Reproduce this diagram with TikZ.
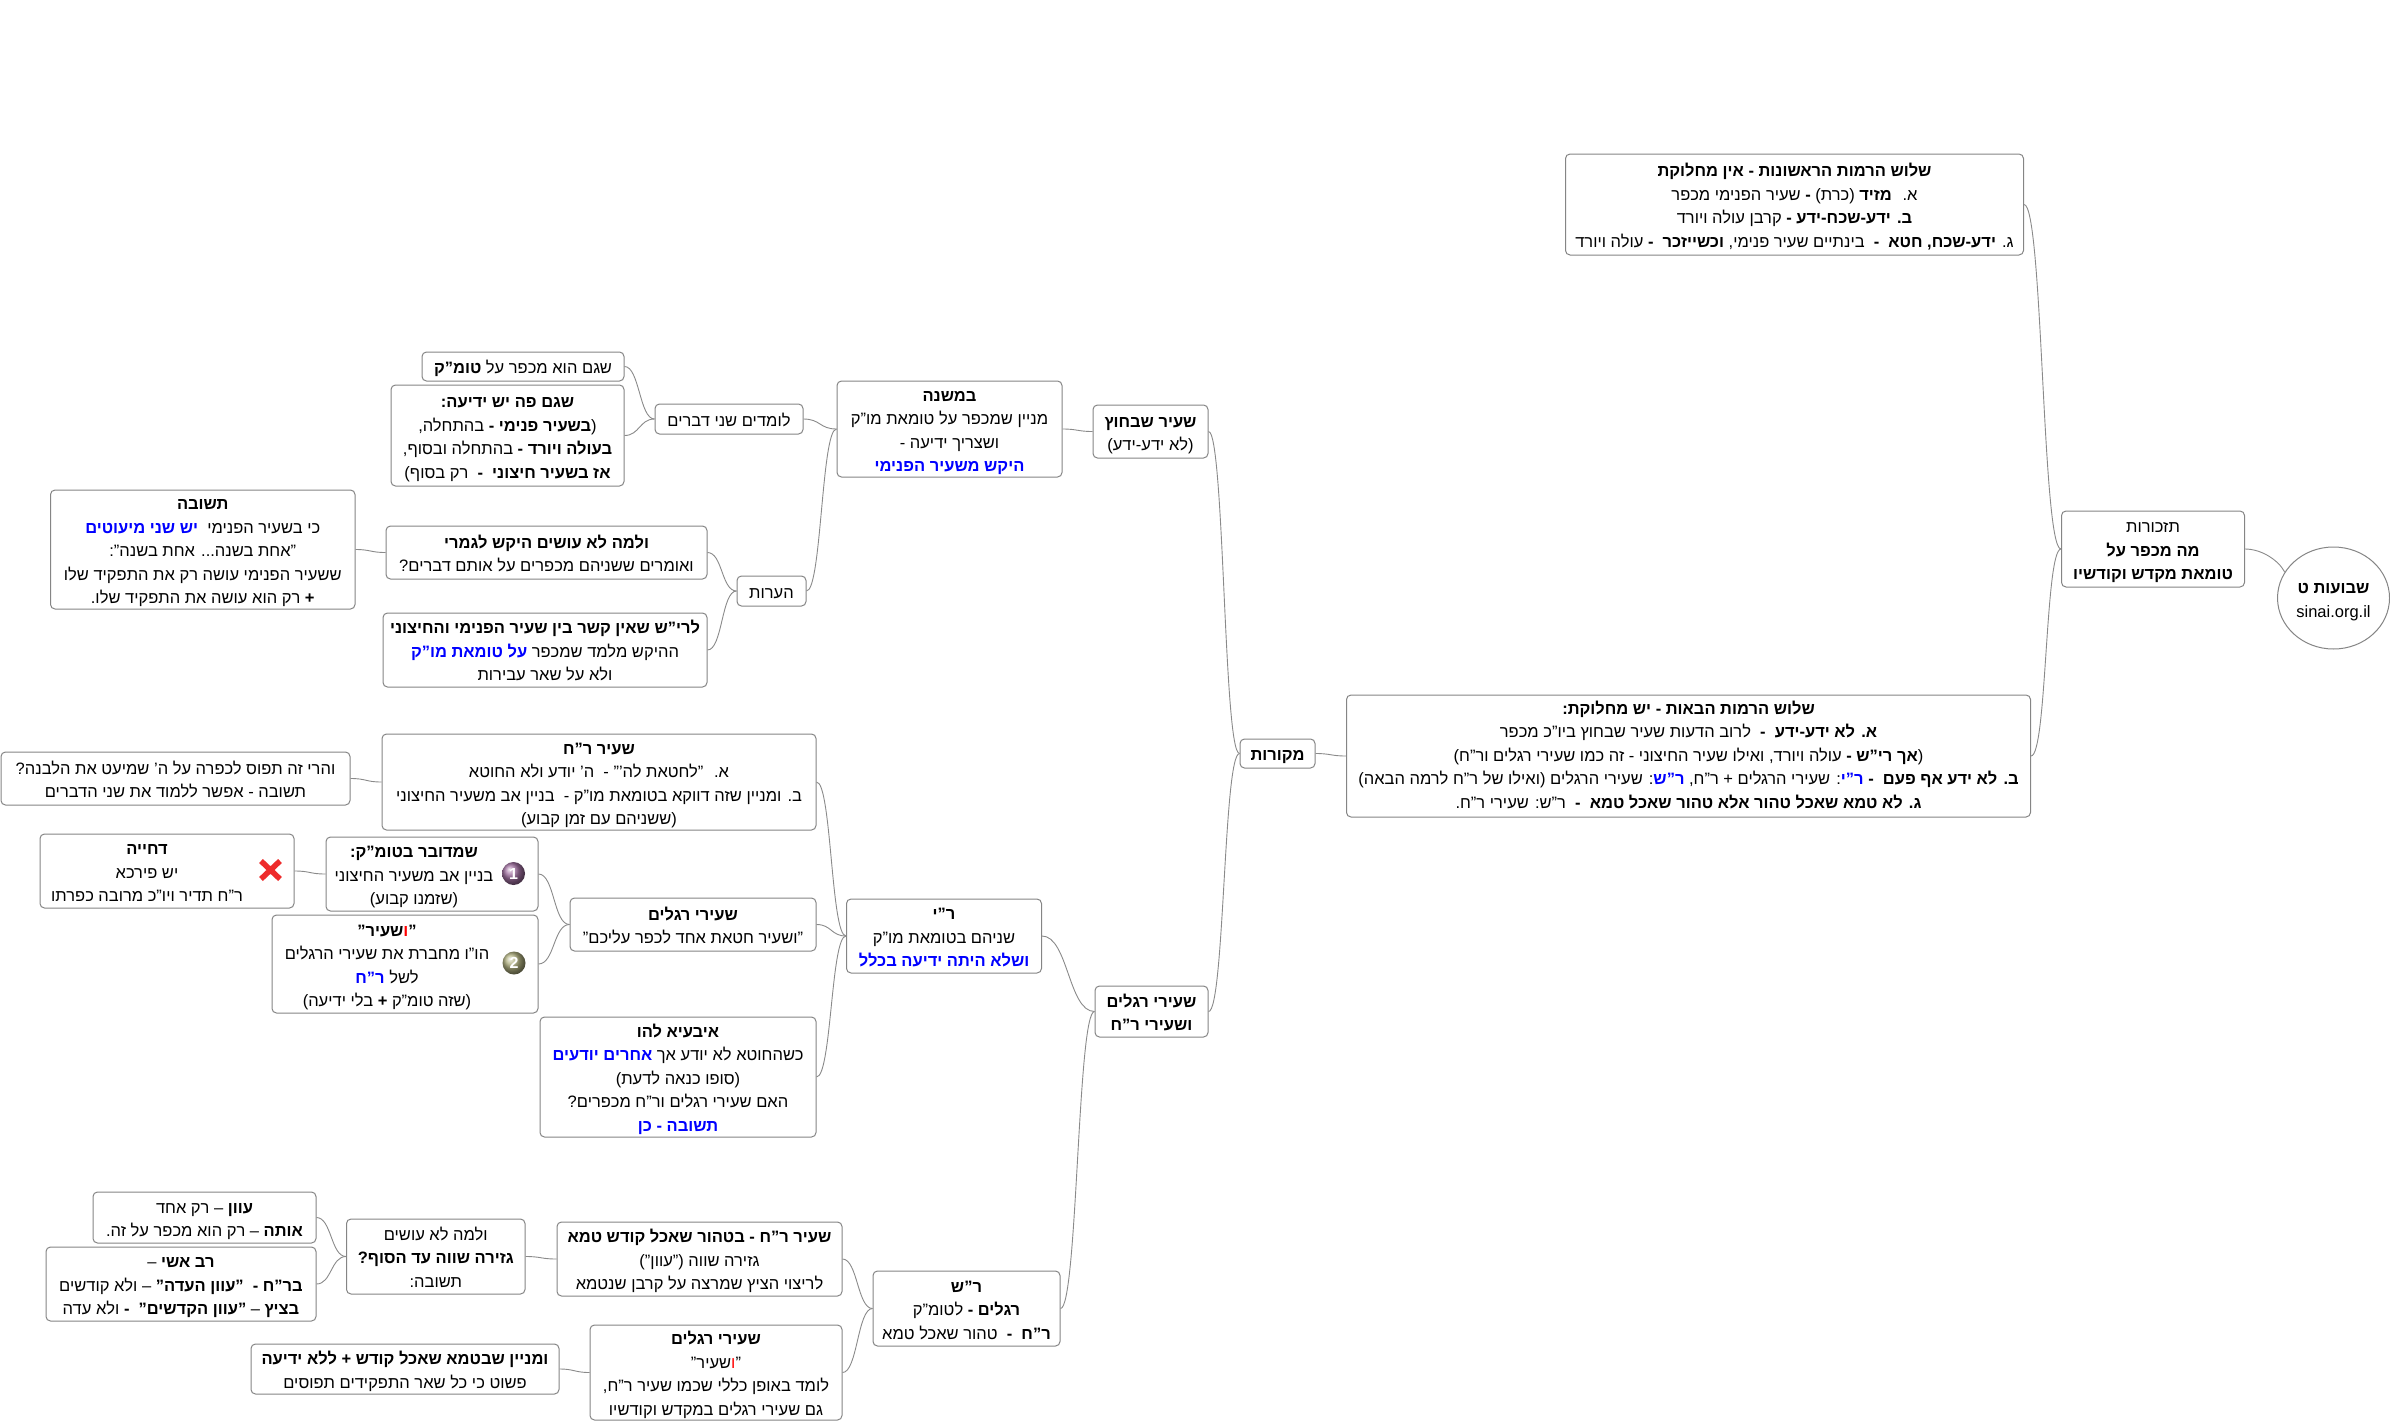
\documentclass[tikz,border=0pt]{standalone}
\usepackage{fontspec}
\setmainfont[Script=Hebrew]{Liberation Sans}
\usetikzlibrary{shapes.geometric}
\TeXXeTstate=1
\definecolor{edgegray}{HTML}{8A8A8A}
\definecolor{bordergray}{HTML}{858585}
\definecolor{xred}{HTML}{EE2B2B}
\definecolor{ballone}{HTML}{A070A0}
\definecolor{balltwo}{HTML}{B0B080}
\newcommand{\rl}[1]{\beginR #1\endR}
\newcommand{\bd}[1]{\textbf{#1}}
% coloured runs stand outside the right-to-left runs; a line with colour lists its runs from left to right
\newcommand{\bl}[1]{\textcolor{blue}{\rl{\textbf{#1}}}}
\newcommand{\rv}[1]{\textcolor{red}{\rl{#1}}}
\newcommand{\rvb}[1]{\textcolor{red}{\rl{\textbf{#1}}}}
\newcommand{\txtdrop}{-7.1pt}
\tikzset{
  mapbox/.style={draw=bordergray,line width=1pt,rounded corners=4.5pt,fill=white,inner sep=0pt,
     font=\fontsize{16.5}{23.5}\selectfont,text=black},
  link/.style={draw=edgegray,line width=0.9pt},
}
% [text offset] name x1 y1 x2 y2 text
\newcommand{\bx}[7][0pt]{\node[mapbox,minimum width=#5pt-#3pt,minimum height=#6pt-#4pt] (#2) at ({(#3+#5)/2},{(#4+#6)/2}) {\raisebox{\txtdrop}[0pt][0pt]{\begin{tabular}{@{}c@{}}#7\end{tabular}}\hspace*{#1}};}
\newcommand{\lnk}[3]{\draw[link] (#1.east) to[out=0,in=180,out distance=#3pt,in distance=#3pt] (#2.west);}
\begin{document}
\begin{tikzpicture}[x=1pt,y=-1pt]
\useasboundingbox (0,0) rectangle (2390,1421);
\node[draw=bordergray,line width=1pt,ellipse,minimum width=112pt,minimum height=102pt,inner sep=0pt,font=\fontsize{16.5}{23.5}\selectfont] (root) at (2333.5,598) {\raisebox{-7.1pt}[0pt][0pt]{\begin{tabular}{@{}c@{}}\rl{\bd{שבועות ט}}\\sinai.org.il\end{tabular}}};
\bx{taz}{2061.5}{511}{2244.5}{587}{\rl{תזכורות}\\\rl{\bd{מה מכפר על}}\\\rl{\bd{טומאת מקדש וקודשיו}}}
\bx{ra}{1565.5}{154}{2023.5}{255}{\rl{\bd{שלוש הרמות הראשונות - אין מחלוקת}}\\\rl{א.~ \bd{מזיד} (כרת) \bd{-} שעיר הפנימי מכפר}\\\rl{\bd{ב. ידע-שכח-ידע -} קרבן עולה ויורד}\\\rl{ג. \bd{ידע-שכח, חטא~ -~} בינתיים שעיר פנימי, \bd{וכשייזכר~ -} עולה ויורד}}
\renewcommand{\txtdrop}{-5.1pt}
\bx{rb}{1346.5}{695}{2030.5}{817}{\rl{\bd{שלוש הרמות הבאות - יש מחלוקת:}}\\\rl{\bd{א. לא ידע-ידע~ -~} לרוב הדעות שעיר שבחוץ ביו"כ מכפר}\\\rl{(\bd{אך רי"ש -} עולה ויורד, ואילו שעיר החיצוני - זה כמו שעירי רגלים ור"ח)}\\\rl{: שעירי הרגלים (ואילו של ר"ח לרמה הבאה)}\bl{ר"ש}\rl{: שעירי הרגלים + ר"ח, }\bl{ר"י}~\rl{\bd{ב. לא ידע אף פעם~ -}}\\\rl{\bd{ג. לא טמא שאכל טהור אלא טהור שאכל טמא~ -~} ר"ש: שעירי ר"ח.}}
\renewcommand{\txtdrop}{-7.1pt}
\bx{mek}{1240}{739}{1315}{768}{\rl{\bd{מקורות}}}
\bx{bach}{1093}{405}{1208}{458}{\rl{\bd{שעיר שבחוץ}}\\\rl{(לא ידע-ידע)}}
\bx{srv}{1095}{986}{1208}{1037}{\rl{\bd{שעירי רגלים}}\\\rl{\bd{ושעירי ר"ח}}}
\bx{mish}{837}{381}{1062}{477}{\rl{\bd{במשנה}}\\\rl{מניין שמכפר על טומאת מו"ק}\\\rl{ושצריך ידיעה -}\\\bl{היקש משעיר הפנימי}}
\bx{lomd}{655}{404}{803}{434}{\rl{לומדים שני דברים}}
\bx{shg}{422}{352}{624}{381}{\rl{שגם הוא מכפר על \bd{טומ"ק}}}
\bx{shp}{391}{385}{624}{486}{\rl{\bd{שגם פה יש ידיעה:}}\\\rl{(\bd{בשעיר פנימי -} בהתחלה,}\\\rl{\bd{בעולה ויורד -} בהתחלה ובסוף,}\\\rl{\bd{אז בשעיר חיצוני~ -~} רק בסוף)}}
\bx{hea}{737}{576}{806}{606}{\rl{הערות}}
\bx{vel}{386}{526}{707}{579}{\rl{\bd{ולמה לא עושים היקש לגמרי}}\\\rl{ואומרים ששניהם מכפרים על אותם דברים?}}
\bx{tsh}{50.5}{490}{355}{609}{\rl{\bd{תשובה}}\\\bl{יש שני מיעוטים}~~\rl{כי בשעיר הפנימי}\\\rl{"אחת בשנה... אחת בשנה":}\\\rl{ששעיר הפנימי עושה רק את התפקיד שלו}\\\rl{\bd{+} רק הוא עושה את התפקיד שלו.}}
\bx{ler}{383}{613}{707}{687}{\rl{\bd{לרי"ש שאין קשר בין שעיר הפנימי והחיצוני}}\\\bl{על טומאת מו"ק}~\rl{ההיקש מלמד שמכפר}\\\rl{ולא על שאר עבירות}}
\bx{ry}{846.5}{899}{1041.5}{973}{\rl{\bd{ר"י}}\\\rl{שניהם בטומאת מו"ק}\\\bl{ושלא היתה ידיעה בכלל}}
\bx{src}{382}{734}{816}{830}{\rl{\bd{שעיר ר"ח}}\\\rl{א.~ "לחטאת לה'" -~ ה' יודע ולא החוטא}\\\rl{ב. ומניין שזה דווקא בטומאת מו"ק -~ בניין אב משעיר החיצוני}\\\rl{(ששניהם עם זמן קבוע)}}
\bx{veh}{1}{752}{350}{805}{\rl{והרי זה תפוס לכפרה על ה' שמיעט את הלבנה?}\\\rl{תשובה - אפשר ללמוד את שני הדברים}}
\bx{srg}{570}{898}{816}{951}{\rl{\bd{שעירי רגלים}}\\\rl{"ושעיר חטאת אחד לכפר עליכם"}}
\bx[36pt]{shm}{326}{837}{538}{911}{\rl{\bd{שמדובר בטומ"ק:}}\\\rl{בניין אב משעיר החיצוני}\\\rl{(שזמנו קבוע)}}
\bx[40pt]{dch}{40}{834}{294}{908}{\rl{\bd{דחייה}}\\\rl{יש פירכא}\\\rl{ר"ח תדיר ויו"כ מרובה כפרתו}}
\bx[36pt]{ves}{272}{915}{538}{1013}{\rl{\bd{שעיר"}}\rvb{ו}\rl{\bd{"}}\\\rl{הו"ו מחברת את שעירי הרגלים}\\\bl{ר"ח}~\rl{לשל}\\\rl{(שזה טומ"ק \bd{+} בלי ידיעה)}}
\bx{iba}{540}{1017}{816}{1137}{\rl{\bd{איבעיא להו}}\\\bl{אחרים יודעים}~\rl{כשהחוטא לא יודע אך}\\\rl{(סופו כנאה לדעת)}\\\rl{האם שעירי רגלים ור"ח מכפרים?}\\\bl{תשובה - כן}}
\bx{rsh}{873}{1271}{1060}{1346}{\rl{\bd{ר"ש}}\\\rl{\bd{רגלים -} לטומ"ק}\\\rl{\bd{ר"ח~ -~} טהור שאכל טמא}}
\bx{bet}{557}{1222}{842}{1296}{\rl{\bd{שעיר ר"ח - בטהור שאכל קודש טמא}}\\\rl{גזירה שווה ("עוון")}\\\rl{לריצוי הציץ שמרצה על קרבן שנטמא}}
\bx{bot}{590}{1325}{842}{1420}{\rl{\bd{שעירי רגלים}}\\\rl{שעיר"}\rv{ו}\rl{"}\\\rl{לומד באופן כללי שכמו שעיר ר"ח,}\\\rl{גם שעירי רגלים במקדש וקודשיו}}
\bx{umn}{251}{1344}{559}{1394}{\rl{\bd{ומניין שבטמא שאכל קודש + ללא ידיעה}}\\\rl{פשוט כי כל שאר התפקידים תפוסים}}
\bx{vl2}{346.5}{1219}{525}{1294}{\rl{ולמה לא עושים}\\\rl{\bd{גזירה שווה עד הסוף?}}\\\rl{תשובה:}}
\bx{avo}{93}{1192}{316}{1243}{\rl{\bd{עוון} – רק אחד}\\\rl{\bd{אותה} – רק הוא מכפר על זה.}}
\bx{rav}{46}{1247}{316}{1321}{\rl{\bd{רב אשי} –}\\\rl{\bd{בר"ח -~ "עוון העדה"} – ולא קודשים}\\\rl{\bd{בציץ} – \bd{"עוון הקדשים"~ -} ולא עדה}}
% connectors
\draw[link] (taz.east) to[out=0,in=118,out distance=16pt,in distance=14pt] (root.152);
\lnk{ra}{taz}{19}
\lnk{rb}{taz}{16}
\lnk{mek}{rb}{15}
\lnk{bach}{mek}{16}
\lnk{srv}{mek}{16}
\lnk{mish}{bach}{15}
\lnk{lomd}{mish}{17}
\lnk{hea}{mish}{15}
\lnk{shg}{lomd}{15}
\lnk{shp}{lomd}{15}
\lnk{vel}{hea}{15}
\lnk{ler}{hea}{15}
\lnk{tsh}{vel}{15}
\lnk{ry}{srv}{26}
\lnk{rsh}{srv}{17}
\lnk{src}{ry}{15}
\lnk{srg}{ry}{15}
\lnk{iba}{ry}{15}
\lnk{veh}{src}{16}
\lnk{shm}{srg}{16}
\lnk{ves}{srg}{16}
\lnk{dch}{shm}{16}
\lnk{bet}{rsh}{15}
\lnk{bot}{rsh}{15}
\lnk{umn}{bot}{15}
\lnk{vl2}{bet}{16}
\lnk{avo}{vl2}{15}
\lnk{rav}{vl2}{15}
% icons
\draw[xred,line width=5.5pt] (261,861) -- (280,879) (280,861) -- (261,879);
\node[circle,ball color=ballone,minimum size=23pt,inner sep=0pt,text=white,font=\bfseries\fontsize{16}{16}\selectfont] (one) at (513.5,873.5) {1};
\node[circle,ball color=balltwo,minimum size=23pt,inner sep=0pt,text=white,font=\bfseries\fontsize{16}{16}\selectfont] (two) at (514,963) {2};
\end{tikzpicture}
\end{document}
